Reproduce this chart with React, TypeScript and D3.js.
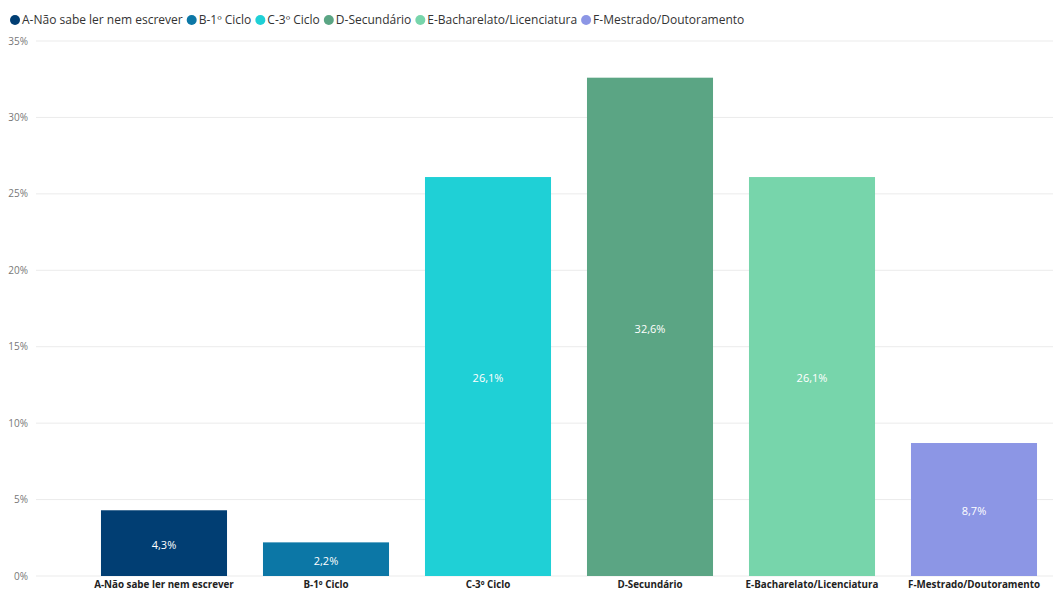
import React, { useEffect, useRef } from "react";
import * as d3 from "d3";

const categories = [
  "A-Não sabe ler nem escrever",
  "B-1º Ciclo",
  "C-3º Ciclo",
  "D-Secundário",
  "E-Bacharelato/Licenciatura",
  "F-Mestrado/Doutoramento",
];
const values = [4.3, 2.2, 26.1, 32.6, 26.1, 8.7];
const colors = ["#013E73", "#0C77A6", "#1FD0D6", "#5BA584", "#77D5AB", "#8C96E5"];
const yTicks = [0, 5, 10, 15, 20, 25, 30, 35];

const W = 1053;
const H = 591;
const FONT = "'Segoe UI', 'Open Sans', sans-serif";

export default function App() {
  const ref = useRef<SVGSVGElement>(null);

  useEffect(() => {
    const svg = d3.select(ref.current);
    svg.selectAll("*").remove();

    const x = d3
      .scaleBand<string>()
      .domain(categories)
      .range([83, 1055])
      .paddingInner(0.222)
      .paddingOuter(0.111);
    const y = d3.scaleLinear().domain([0, 35]).range([576, 41]);

    // grid
    const g = svg.append("g");
    g.selectAll("line.grid")
      .data(yTicks)
      .join("line")
      .attr("x1", 36)
      .attr("x2", W)
      .attr("y1", (d) => y(d))
      .attr("y2", (d) => y(d))
      .attr("stroke", "#ebebeb")
      .attr("stroke-width", 1);
    g.selectAll("text.tick")
      .data(yTicks)
      .join("text")
      .attr("x", 28)
      .attr("y", (d) => y(d))
      .attr("dy", "0.35em")
      .attr("text-anchor", "end")
      .attr("font-family", FONT)
      .attr("font-size", 10)
      .attr("fill", "#777")
      .text((d) => `${d}%`);

    // bars
    const data = categories.map((c, i) => ({ c, v: values[i], col: colors[i] }));
    svg
      .append("g")
      .selectAll("rect")
      .data(data)
      .join("rect")
      .attr("x", (d) => x(d.c)!)
      .attr("width", x.bandwidth())
      .attr("y", (d) => y(d.v))
      .attr("height", (d) => y(0) - y(d.v))
      .attr("fill", (d) => d.col);

    svg
      .append("g")
      .selectAll("text")
      .data(data)
      .join("text")
      .attr("x", (d) => x(d.c)! + x.bandwidth() / 2)
      .attr("y", (d) => (y(d.v) + y(0)) / 2 + 2)
      .attr("dy", "0.35em")
      .attr("text-anchor", "middle")
      .attr("font-family", FONT)
      .attr("font-size", 11)
      .attr("fill", "#fff")
      .text((d) => d.v.toFixed(1).replace(".", ",") + "%");

    // category labels
    svg
      .append("g")
      .selectAll("text")
      .data(categories)
      .join("text")
      .attr("x", (d) => x(d)! + x.bandwidth() / 2)
      .attr("y", 585)
      .attr("dy", "0.35em")
      .attr("text-anchor", "middle")
      .attr("font-family", FONT)
      .attr("font-weight", "bold")
      .attr("font-size", 9.8)
      .attr("fill", "#222")
      .text((d) => d);

    // legend
    const lg = svg.append("g");
    let cx = 15;
    categories.forEach((c, i) => {
      lg.append("circle").attr("cx", cx).attr("cy", 20).attr("r", 5).attr("fill", colors[i]);
      const t = lg
        .append("text")
        .attr("x", cx + 7)
        .attr("y", 20)
        .attr("dy", "0.35em")
        .attr("font-family", FONT)
        .attr("font-size", 12)
        .attr("fill", "#333")
        .text(c);
      const w = (t.node() as SVGTextElement).getComputedTextLength();
      cx = cx + 7 + w + 9;
    });
  }, []);

  return (
    <svg
      ref={ref}
      width={W}
      height={H}
      style={{ position: "absolute", left: 0, top: 0, background: "#fff" }}
    />
  );
}
